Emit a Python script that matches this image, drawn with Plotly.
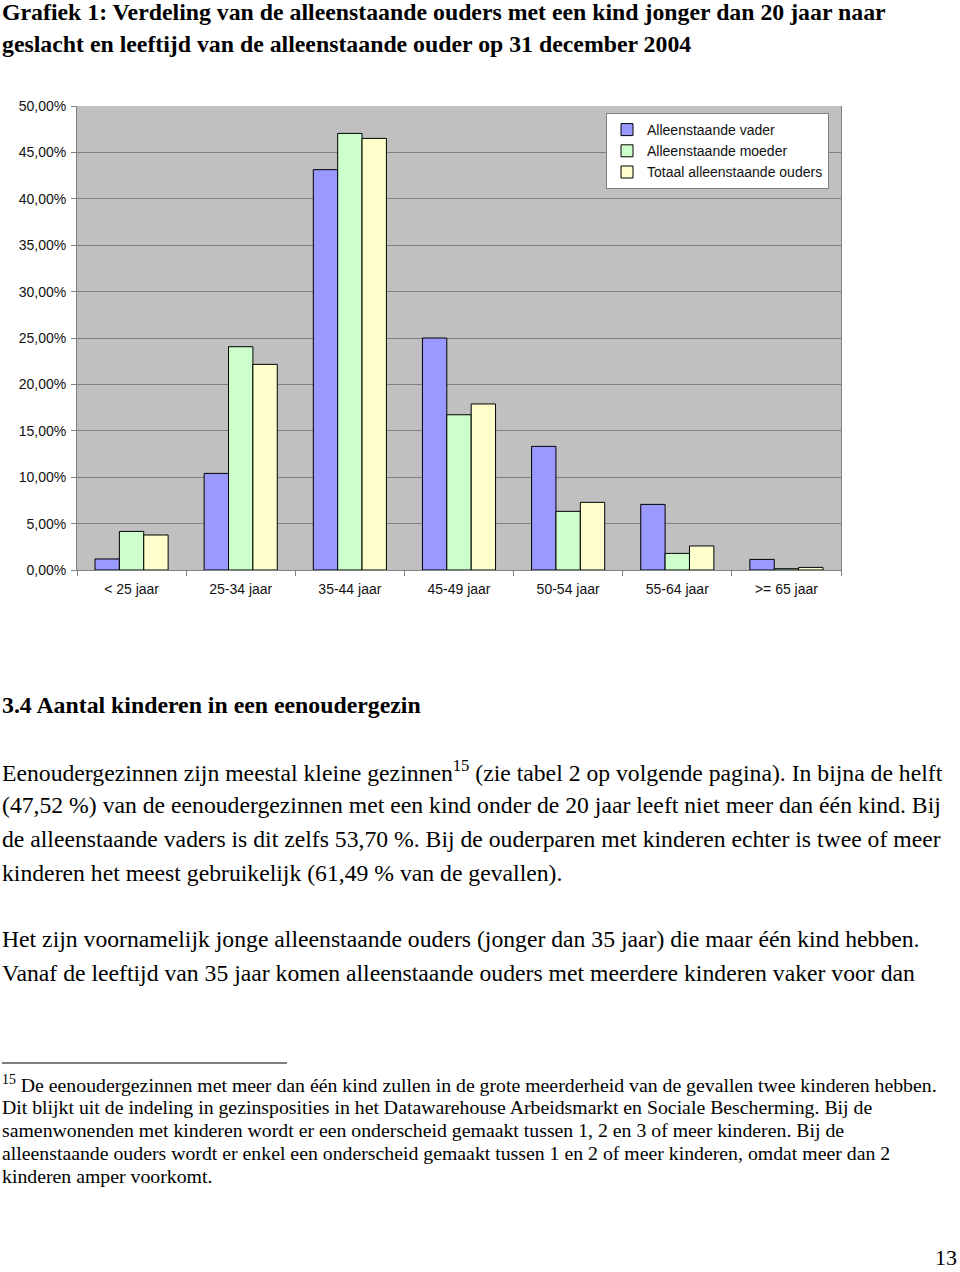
import plotly.graph_objects as go

W, H = 960, 1272

categories = ["< 25 jaar", "25-34 jaar", "35-44 jaar", "45-49 jaar", "50-54 jaar", "55-64 jaar", ">= 65 jaar"]
vader = [1.19, 10.41, 43.14, 25.00, 13.32, 7.07, 1.14]
moeder = [4.16, 24.06, 47.05, 16.73, 6.32, 1.79, 0.14]
totaal = [3.77, 22.16, 46.51, 17.89, 7.29, 2.59, 0.28]
series_names = ["Alleenstaande vader", "Alleenstaande moeder", "Totaal alleenstaande ouders"]
series_colors = ["#9999FF", "#CCFFCC", "#FFFFCC"]
y_ticks = [0, 5, 10, 15, 20, 25, 30, 35, 40, 45, 50]
y_tick_labels = ["0,00%", "5,00%", "10,00%", "15,00%", "20,00%", "25,00%",
                 "30,00%", "35,00%", "40,00%", "45,00%", "50,00%"]

title_lines = [
    "Grafiek 1: Verdeling van de alleenstaande ouders met een kind jonger dan 20 jaar naar",
    "geslacht en leeftijd van de alleenstaande ouder op 31 december 2004",
]
heading = "3.4 Aantal kinderen in een eenoudergezin"
body_lines = [
    "Eenoudergezinnen zijn meestal kleine gezinnen<sup>15</sup> (zie tabel 2 op volgende pagina). In bijna de helft",
    "(47,52 %) van de eenoudergezinnen met een kind onder de 20 jaar leeft niet meer dan één kind. Bij",
    "de alleenstaande vaders is dit zelfs 53,70 %. Bij de ouderparen met kinderen echter is twee of meer",
    "kinderen het meest gebruikelijk (61,49 % van de gevallen).",
]
body_lines2 = [
    "Het zijn voornamelijk jonge alleenstaande ouders (jonger dan 35 jaar) die maar één kind hebben.",
    "Vanaf de leeftijd van 35 jaar komen alleenstaande ouders met meerdere kinderen vaker voor dan",
]
footnote_lines = [
    "<sup>15</sup> De eenoudergezinnen met meer dan één kind zullen in de grote meerderheid van de gevallen twee kinderen hebben.",
    "Dit blijkt uit de indeling in gezinsposities in het Datawarehouse Arbeidsmarkt en Sociale Bescherming. Bij de",
    "samenwonenden met kinderen wordt er een onderscheid gemaakt tussen 1, 2 en 3 of meer kinderen. Bij de",
    "alleenstaande ouders wordt er enkel een onderscheid gemaakt tussen 1 en 2 of meer kinderen, omdat meer dan 2",
    "kinderen amper voorkomt.",
]
page_number = "13"


def px(x):
    return x / W


def py(y):
    return 1 - y / H


SERIF = "Liberation Serif, Times New Roman, serif"
SANS = "Liberation Sans, Arial, sans-serif"

fig = go.Figure()
for name, vals, col in zip(series_names, [vader, moeder, totaal], series_colors):
    fig.add_trace(go.Bar(x=categories, y=vals, name=name,
                         marker=dict(color=col, line=dict(color="black", width=1))))

annotations = []


def add_text(txt, x, y, size, bold=False, family=SERIF, yanchor="middle"):
    annotations.append(dict(
        text=f"<b>{txt}</b>" if bold else txt,
        x=px(x), y=py(y), xref="paper", yref="paper",
        xanchor="left", yanchor=yanchor, showarrow=False,
        font=dict(family=family, size=size, color="black"),
    ))


add_text(title_lines[0], 0, 12, 23.8, bold=True)
add_text(title_lines[1], 0, 44, 23.8, bold=True)
add_text(heading, 0, 705, 23.8, bold=True)
for i, ln in enumerate(body_lines):
    add_text(ln, 0, 771 + 34 * i, 23.7)
for i, ln in enumerate(body_lines2):
    add_text(ln, 0, 939 + 34 * i, 23.7)
for i, ln in enumerate(footnote_lines):
    add_text(ln, 0, 1084 + 23 * i, 19.8)
annotations.append(dict(text=page_number, x=px(958), y=py(1271), xref="paper", yref="paper",
                        xanchor="right", yanchor="bottom", showarrow=False, borderpad=0,
                        font=dict(family=SERIF, size=22, color="black")))

fig.update_layout(
    width=W, height=H,
    margin=dict(l=0, r=0, t=0, b=0, autoexpand=False),
    paper_bgcolor="white",
    plot_bgcolor="#C0C0C0",
    barmode="group",
    bargap=0.33,
    bargroupgap=0,
    font=dict(family=SANS, size=14, color="black"),
    showlegend=True,
    legend=dict(x=px(829), y=py(113), xanchor="right", yanchor="top",
                bgcolor="white", bordercolor="#808080", borderwidth=1,
                font=dict(family=SANS, size=14, color="#111"),
                itemwidth=30, tracegroupgap=0),
    annotations=annotations,
    shapes=[dict(type="line", xref="paper", yref="paper",
                 x0=px(2), x1=px(287), y0=py(1063), y1=py(1063),
                 line=dict(color="black", width=1.2))],
    xaxis=dict(domain=[px(77), px(841)], anchor="y",
               showline=True, linecolor="#808080", linewidth=1,
               ticks="outside", ticklen=5, tickcolor="#808080",
               tickson="boundaries", showgrid=False,
               ticklabelstandoff=6,
               tickfont=dict(family=SANS, size=14, color="#111")),
    yaxis=dict(domain=[py(570), py(106)], anchor="x", range=[0, 50],
               tickmode="array", tickvals=y_ticks, ticktext=y_tick_labels,
               showline=True, linecolor="#808080", linewidth=1, mirror=True,
               ticks="outside", ticklen=5, tickcolor="#808080",
               ticklabelstandoff=2,
               showgrid=True, gridcolor="#808080", gridwidth=1,
               zeroline=False,
               tickfont=dict(family=SANS, size=14, color="#111")),
)

fig.write_html("out.html")
